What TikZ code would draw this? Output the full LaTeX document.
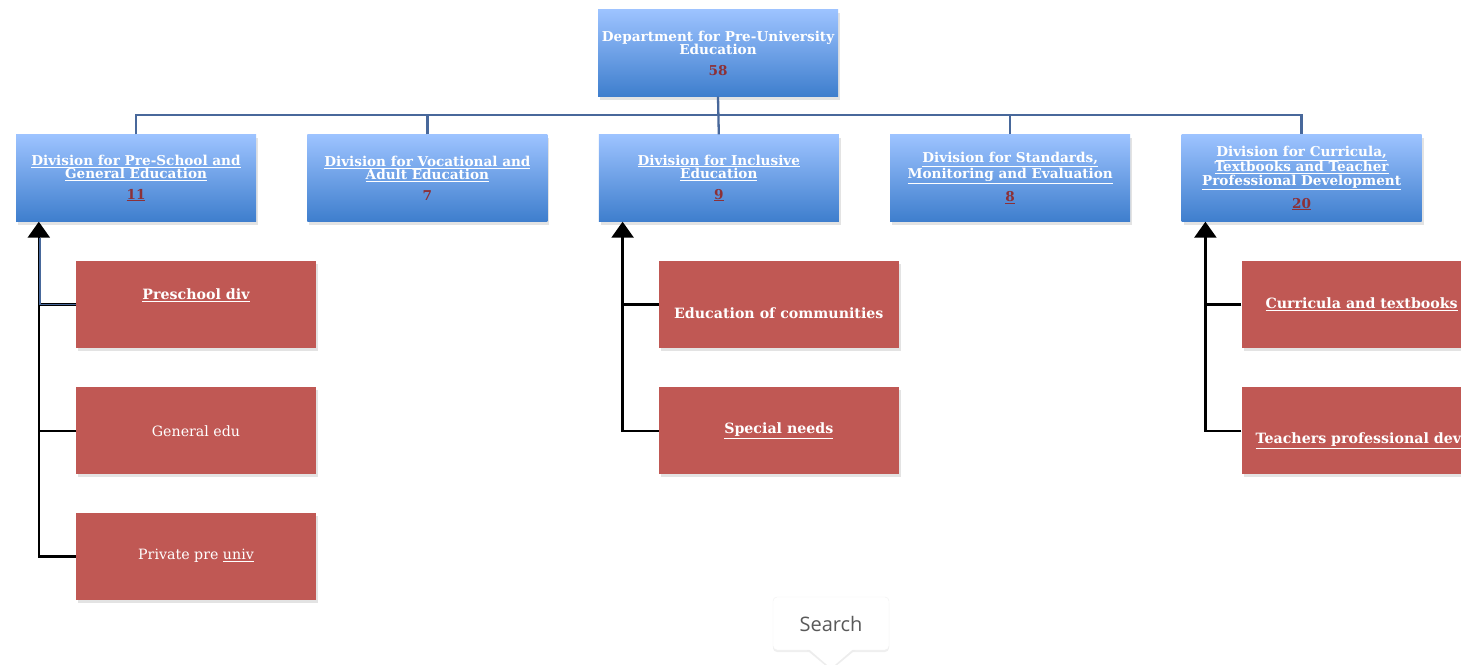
\documentclass[tikz,border=0pt]{standalone}
\usepackage{fontspec}
\setmainfont{DejaVu Serif}
\setsansfont{Open Sans}
\usetikzlibrary{positioning, arrows.meta, shadows}

\definecolor{divtop}{RGB}{157,195,255}
\definecolor{divbottom}{RGB}{62,126,205}
\definecolor{unitred}{RGB}{192,88,84}
\definecolor{headcount}{RGB}{140,48,55}
\definecolor{linkblue}{RGB}{72,104,155}

\newcommand{\undl}[1]{\underline{#1}}
\newcommand{\nlift}[2]{\raisebox{#1}[\height][\depth]{#2}}
\newcommand{\staff}[1]{\textcolor{headcount}{#1}}

\begin{document}
\begin{tikzpicture}[
		x=1pt, y=-1pt,
		node distance=51pt,
		>={Triangle[width=22pt,length=16pt]},
		box/.style={rectangle, minimum width=240pt, minimum height=87pt, align=center, inner sep=0pt, text=white,
			drop shadow={shadow xshift=2pt, shadow yshift=-3pt, opacity=0.22}},
		divbox/.style={box, top color=divtop, bottom color=divbottom, font=\bfseries\fontsize{13.6}{13.5}\selectfont},
		unitbox/.style={box, fill=unitred, font=\fontsize{14.2}{14}\selectfont},
		orgline/.style={draw=linkblue, line width=2.3pt},
		treeline/.style={draw=black, line width=2.6pt},
		searchtip/.style={rectangle, rounded corners=4pt, fill=white, draw=black!6, minimum width=116pt, minimum height=53pt,
			font=\sffamily\fontsize{20}{24}\selectfont, text=black!65,
			drop shadow={shadow xshift=0pt, shadow yshift=-2pt, opacity=0.12}}
	]
	\useasboundingbox (0,0) rectangle (1461,664);
	\clip (0,0) rectangle (1461,664);
	\fill[white] (0,0) rectangle (1461,664);

	\node[divbox] (dept) at (718,53) {Department for Pre-University\\Education\\[7pt]\staff{58}};

	\node[divbox] (div1) at (136,178) {\undl{Division for Pre-School and}\\\undl{General Education}\\[7pt]\staff{\undl{11}}};
	\node[divbox, right=of div1] (div2) {\undl{Division for Vocational and}\\\undl{Adult Education}\\[7pt]\staff{7}};
	\node[divbox, right=of div2] (div3) {\undl{Division for Inclusive}\\\undl{Education}\\[7pt]\staff{\undl{9}}};
	\node[divbox, right=of div3] (div4) {\undl{Division for Standards,}\\\undl{Monitoring and Evaluation}\\[7pt]\staff{\undl{8}}};
	\node[divbox, right=of div4] (div5) {\undl{Division for Curricula,}\\\undl{Textbooks and Teacher}\\\undl{Professional Development}\\[7pt]\staff{\undl{20}}};

	\node[unitbox, below=39pt of div1, xshift=60pt] (preschool) {\nlift{9pt}{\bfseries\undl{Preschool div}}};
	\node[unitbox, below=39pt of preschool] (general) {General edu};
	\node[unitbox, below=38pt of general] (private) {Private pre \undl{univ}};

	\node[unitbox, below=39pt of div3, xshift=60pt] (communities) {\nlift{-9pt}{\bfseries Education of communities}};
	\node[unitbox, below=39pt of communities] (needs) {\bfseries\undl{Special needs}};

	\node[unitbox, below=39pt of div5, xshift=60pt] (curricula) {\bfseries\undl{Curricula and textbooks}};
	\node[unitbox, below=39pt of curricula] (teachers) {\nlift{-10pt}{\makebox[212pt][l]{\bfseries\undl{Teachers professional development}}}};

	\node[searchtip] (search) at (831,623.5) {Search};
	\fill[black!7] ([xshift=-24pt]search.south) -- ([xshift=24pt]search.south) -- ([yshift=-20pt]search.south) -- cycle;
	\fill[white] ([xshift=-22pt, yshift=1pt]search.south) -- ([xshift=22pt, yshift=1pt]search.south) -- ([yshift=-18pt]search.south) -- cycle;

	% department to divisions
	\coordinate (bus) at ([yshift=19pt]div1.north);
	\draw[orgline] (dept.south) -- (div3.north);
	\draw[orgline] (div1.north) -- (bus) -| (div5.north);
	\foreach \d in {div2,div4}
		\draw[orgline] (\d.north) -- (\d.north |- bus);

	% units to their divisions
	\coordinate (spine1) at ([xshift=23pt]div1.south west);
	\coordinate (spine3) at ([xshift=24pt]div3.south west);
	\coordinate (spine5) at ([xshift=24pt]div5.south west);

	\draw[treeline, ->] (private.west) -| (spine1);
	\draw[treeline] (general.west) -- (general.west -| spine1);
	\draw[treeline] (preschool.west) -- (preschool.west -| spine1);
	\draw[orgline, line width=1.8pt] (preschool.west) -| ([xshift=1pt, yshift=-16pt]spine1);

	\draw[treeline, ->] (needs.west) -| (spine3);
	\draw[treeline] (communities.west) -- (communities.west -| spine3);

	\draw[treeline, ->] (teachers.west) -| (spine5);
	\draw[treeline] (curricula.west) -- (curricula.west -| spine5);
\end{tikzpicture}
\end{document}
